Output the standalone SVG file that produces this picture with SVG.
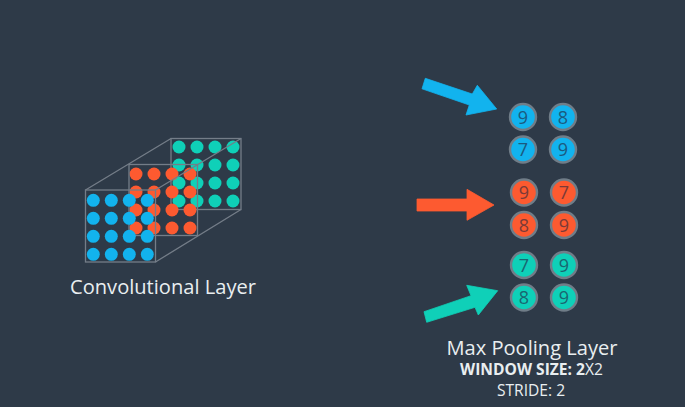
<svg xmlns="http://www.w3.org/2000/svg" width="685" height="407" viewBox="0 0 685 407">
<style>
.blue{fill:#12b3ee}.orange{fill:#fd5a30}.teal{fill:#0fd0b8}
.frame{fill:none;stroke:#747d88;stroke-width:1.3}
.arrow{stroke-width:.8;stroke-linejoin:miter}
.pool circle{stroke:#707d88;stroke-width:2.4}
.pool text{font-family:"Open Sans","Liberation Sans",sans-serif;font-size:18px;text-anchor:middle}
.pb text{fill:#1b5a80}.po text{fill:#7a3a38}.pt text{fill:#1a6670}
.label{font-family:"Open Sans","Liberation Sans",sans-serif;text-anchor:middle;fill:#e9eef0}
</style>
<defs>
<g id="g4">
<circle cx="0" cy="0" r="6.5"/><circle cx="18" cy="0" r="6.5"/><circle cx="36" cy="0" r="6.5"/><circle cx="54" cy="0" r="6.5"/>
<circle cx="0" cy="18" r="6.5"/><circle cx="18" cy="18" r="6.5"/><circle cx="36" cy="18" r="6.5"/><circle cx="54" cy="18" r="6.5"/>
<circle cx="0" cy="36" r="6.5"/><circle cx="18" cy="36" r="6.5"/><circle cx="36" cy="36" r="6.5"/><circle cx="54" cy="36" r="6.5"/>
<circle cx="0" cy="54" r="6.5"/><circle cx="18" cy="54" r="6.5"/><circle cx="36" cy="54" r="6.5"/><circle cx="54" cy="54" r="6.5"/>
</g>
</defs>
<rect width="685" height="407" fill="#2e3a48"/>
<g id="conv-layer">
<use href="#g4" x="179" y="147" class="teal"/>
<rect class="frame" x="171" y="138.5" width="70" height="71"/>
<use href="#g4" x="136" y="174" class="orange"/>
<rect class="frame" x="129" y="164.5" width="68.5" height="71"/>
<use href="#g4" x="93.3" y="200.3" class="blue"/>
<rect class="frame" x="85.5" y="190" width="70" height="72"/>
<path class="frame" d="M85.5 190L171 138.5M155.5 190L241 138.5M155.5 262L241 209.5"/>
</g>
<g id="conv-label"><text class="label" x="163" y="294" font-size="20.1">Convolutional Layer</text></g>
<g id="connectors">
<polygon class="blue arrow" stroke="#12b3ee" points="425.3,78.3 472.3,94 477.3,85.3 496.7,109 466,115 469.3,105 422,88.8"/>
<polygon class="orange arrow" stroke="#fd5a30" points="417,199 467,199 467,189.3 494,205 467,220.3 467,211 417,211"/>
<polygon class="teal arrow" stroke="#0fd0b8" points="424,311.7 471,295.7 466.7,285.3 497.7,290.7 478.3,315 475,307.3 426.7,322.3"/>
</g>
<g id="pool-blue" class="pool pb">
<circle class="blue" cx="523" cy="117" r="13"/><text x="523" y="123.5">9</text>
<circle class="blue" cx="563" cy="117" r="13"/><text x="563" y="123.5">8</text>
<circle class="blue" cx="523" cy="149.5" r="13"/><text x="523" y="156">7</text>
<circle class="blue" cx="563" cy="149.5" r="13"/><text x="563" y="156">9</text>
</g>
<g id="pool-orange" class="pool po">
<circle class="orange" cx="524" cy="192.5" r="13"/><text x="524" y="199">9</text>
<circle class="orange" cx="564" cy="192.5" r="13"/><text x="564" y="199">7</text>
<circle class="orange" cx="524" cy="225" r="13"/><text x="524" y="231.5">8</text>
<circle class="orange" cx="564" cy="225" r="13"/><text x="564" y="231.5">9</text>
</g>
<g id="pool-teal" class="pool pt">
<circle class="teal" cx="524" cy="265" r="13"/><text x="524" y="271.5">7</text>
<circle class="teal" cx="564" cy="265" r="13"/><text x="564" y="271.5">9</text>
<circle class="teal" cx="524" cy="297.5" r="13"/><text x="524" y="304">8</text>
<circle class="teal" cx="564" cy="297.5" r="13"/><text x="564" y="304">9</text>
</g>
<g id="pool-label">
<text class="label" x="532" y="355" font-size="20.1">Max Pooling Layer</text>
<text class="label" x="531.5" y="375" font-size="15.6"><tspan font-weight="700">WINDOW SIZE: 2</tspan>X2</text>
<text class="label" x="531" y="396" font-size="15.6">STRIDE: 2</text>
</g>
</svg>
